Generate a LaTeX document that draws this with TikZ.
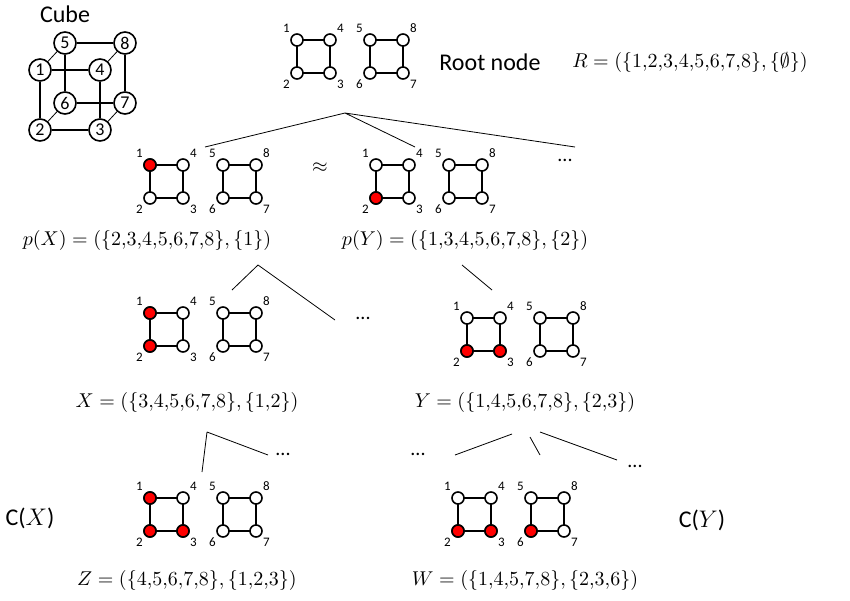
\documentclass[tikz,border=0pt]{standalone}
\usepackage{fontspec}
\setmainfont{Carlito}
\usetikzlibrary{positioning}

\tikzset{
  vtx/.style={circle, draw, thick, fill=white, inner sep=0pt, minimum size=6pt},
  redvtx/.style={vtx, fill=red},
  cnode/.style={circle, draw, thick, fill=white, inner sep=0pt, minimum size=11pt, font=\small},
  num/.style={font=\fontsize{6.5}{7}\selectfont, inner sep=1pt},
  formula/.style={font=\normalsize},
  caption/.style={font=\large},
  branch/.style={thin}
}

% two squares: name, x, y of vertex 1, list of red vertices
\newcommand{\sqpair}[4]{%
  \foreach \k/\dx/\dy in {1/0/0,4/33/0,2/0/33,3/33/33,5/73/0,8/106/0,6/73/33,7/106/33}
    \coordinate (#1-\k) at ({#2+\dx},{#3+\dy});
  \draw[thick] (#1-1) -- (#1-4) -- (#1-3) -- (#1-2) -- cycle;
  \draw[thick] (#1-5) -- (#1-8) -- (#1-7) -- (#1-6) -- cycle;
  \foreach \k/\pos in {1/above left,4/above right,2/below left,3/below right,
                       5/above left,8/above right,6/below left,7/below right}
    \node[vtx, label={[num]\pos:\k}] at (#1-\k) {};
  \foreach \k in {#4}
    \node[redvtx] at (#1-\k) {};
}

\begin{document}
\begin{tikzpicture}[x=0.5pt, y=-0.5pt]
\useasboundingbox (0,0) rectangle (850,600);

% cube
\node[caption] (cubetitle) at (65,14) {Cube};
\node[cnode] (c5) at (65,43) {5};
\node[cnode] (c8) at (125,43) {8};
\node[cnode] (c1) at (40,70) {1};
\node[cnode] (c4) at (100,70) {4};
\node[cnode] (c6) at (65,103) {6};
\node[cnode] (c7) at (125,103) {7};
\node[cnode] (c2) at (40,130) {2};
\node[cnode] (c3) at (100,130) {3};
\draw[thin] (c1) -- (c5) (c4) -- (c8) (c2) -- (c6) (c3) -- (c7);
\draw[thick] (c5) -- (c8) (c5) -- (c6) (c8) -- (c7) (c6) -- (c7);
\draw[thick] (c1) -- (c4) (c1) -- (c2) (c4) -- (c3) (c2) -- (c3);

% squares
\sqpair{root}{297}{40}{}
\sqpair{px}{150}{165}{1}
\sqpair{py}{376}{165}{2}
\sqpair{x}{150}{313}{1,2}
\sqpair{y}{467}{318}{2,3}
\sqpair{z}{150}{498}{1,2,3}
\sqpair{w}{458}{498}{2,3,6}

% texts
\node[caption] (rootlabel) at (490,62) {Root node};
\node[formula] (R) at (690,62) {$R=(\{1{,}2{,}3{,}4{,}5{,}6{,}7{,}8\},\{\emptyset\})$};
\node (approx) at (320,168) {$\approx$};
\node (dots1) at (565,160) {...};
\node[formula] (pX) at (147,240) {$p(X)=(\{2{,}3{,}4{,}5{,}6{,}7{,}8\},\{1\})$};
\node[formula] (pY) at (465,240) {$p(Y)=(\{1{,}3{,}4{,}5{,}6{,}7{,}8\},\{2\})$};
\node (dots2) at (363,318) {...};
\node[formula] (X) at (187,402) {$X=(\{3{,}4{,}5{,}6{,}7{,}8\},\{1{,}2\})$};
\node[formula] (Y) at (525,402) {$Y=(\{1{,}4{,}5{,}6{,}7{,}8\},\{2{,}3\})$};
\node (dots3) at (283,454) {...};
\node (dots4) at (418,454) {...};
\node (dots5) at (635,466) {...};
\node[caption] (CX) at (30,518) {C($X$)};
\node[caption] (CY) at (702,520) {C($Y$)};
\node[formula] (Z) at (187,580) {$Z=(\{4{,}5{,}6{,}7{,}8\},\{1{,}2{,}3\})$};
\node[formula] (W) at (525,580) {$W=(\{1{,}4{,}5{,}7{,}8\},\{2{,}3{,}6\})$};

% tree branches
\coordinate (rt) at (345,113);
\coordinate (pxt) at (258,265);
\coordinate (pyt) at (462,265);
\coordinate (xt) at (207,432);
\coordinate (yt) at (512,434);
\draw[branch] (rt) -- (205,147) (rt) -- (415,147) (rt) -- (575,147);
\draw[branch] (pxt) -- (232,290) (pxt) -- (335,320);
\draw[branch] (pyt) -- (492,290);
\draw[branch] (xt) -- (202,472) (xt) -- (268,455);
\draw[branch] (yt) -- (455,455) (530,437) -- (540,455) (540,432) -- (617,460);
\end{tikzpicture}
\end{document}
